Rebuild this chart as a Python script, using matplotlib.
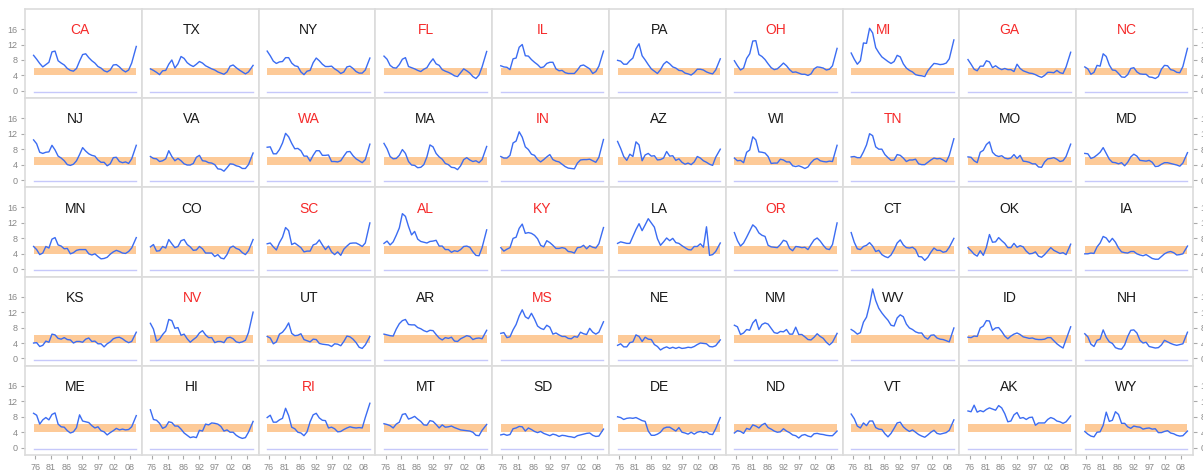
import matplotlib.pyplot as plt

plt.rcParams['font.family'] = ['Liberation Sans', 'DejaVu Sans']

# orden de los paneles (5 filas x 10 columnas)
STATES = ['CA', 'TX', 'NY', 'FL', 'IL', 'PA', 'OH', 'MI', 'GA', 'NC',
          'NJ', 'VA', 'WA', 'MA', 'IN', 'AZ', 'WI', 'TN', 'MO', 'MD',
          'MN', 'CO', 'SC', 'AL', 'KY', 'LA', 'OR', 'CT', 'OK', 'IA',
          'KS', 'NV', 'UT', 'AR', 'MS', 'NE', 'NM', 'WV', 'ID', 'NH',
          'ME', 'HI', 'RI', 'MT', 'SD', 'DE', 'ND', 'VT', 'AK', 'WY']
RED_STATES = ['CA', 'FL', 'IL', 'OH', 'MI', 'GA', 'NC', 'WA', 'IN', 'TN',
              'SC', 'AL', 'KY', 'OR', 'NV', 'MS', 'RI']

# 1976 ... 2008 y mediados de 2009
YEARS = list(range(1976, 2009)) + [2009.5]
TICK_POS = [1976.5, 1981.65, 1986.8, 1991.95, 1997.1, 2002.25, 2007.4]
TICK_LABELS = ['76', '81', '86', '92', '97', '02', '08']
Y_TICKS = [0, 4, 8, 12, 16]
BAND = (4, 6)

# tasa de desempleo (%)
CA = [9.2, 8.2, 7.1, 6.2, 6.8, 7.4, 10.1, 10.3, 7.8, 7.2, 6.7, 5.8, 5.3, 5.1, 5.8, 7.7, 9.4, 9.6, 8.6, 7.8, 7.2, 6.3, 5.9, 5.2, 4.9, 5.4, 6.7, 6.8, 6.2, 5.4, 4.9, 5.4, 7.2, 11.5]
TX = [5.7, 5.3, 4.8, 4.2, 5.2, 5.3, 6.9, 8.0, 5.9, 7.0, 8.9, 8.4, 7.3, 6.7, 6.3, 6.9, 7.6, 7.2, 6.5, 6.1, 5.7, 5.4, 4.9, 4.6, 4.3, 4.9, 6.4, 6.7, 6.0, 5.4, 4.9, 4.4, 4.9, 6.6]
NY = [10.3, 9.1, 7.7, 7.1, 7.5, 7.6, 8.6, 8.6, 7.2, 6.5, 6.3, 4.9, 4.2, 5.1, 5.3, 7.3, 8.5, 7.8, 6.9, 6.3, 6.3, 6.4, 5.7, 5.2, 4.5, 4.9, 6.2, 6.4, 5.8, 5.0, 4.6, 4.6, 5.4, 8.5]
FL = [9.0, 8.2, 6.6, 6.0, 5.9, 6.8, 8.2, 8.6, 6.3, 6.0, 5.7, 5.3, 5.0, 5.6, 6.0, 7.3, 8.3, 7.0, 6.6, 5.5, 5.1, 4.8, 4.4, 3.9, 3.7, 4.7, 5.7, 5.2, 4.6, 3.7, 3.2, 4.1, 6.2, 10.2]
IL = [6.5, 6.2, 6.1, 5.5, 8.3, 8.5, 11.3, 12.0, 9.1, 9.0, 8.1, 7.4, 6.8, 6.0, 6.2, 7.1, 7.4, 7.4, 5.7, 5.2, 5.3, 4.7, 4.5, 4.5, 4.5, 5.4, 6.5, 6.7, 6.2, 5.7, 4.5, 5.0, 6.4, 10.3]
PA = [7.9, 7.7, 6.9, 6.9, 7.8, 8.5, 10.9, 12.2, 9.1, 8.0, 6.8, 5.7, 5.1, 4.5, 5.5, 6.9, 7.6, 7.0, 6.2, 5.9, 5.3, 5.2, 4.6, 4.4, 4.1, 4.7, 5.6, 5.6, 5.4, 4.9, 4.6, 4.4, 5.4, 8.3]
OH = [7.8, 6.5, 5.4, 5.9, 8.4, 9.6, 12.9, 13.0, 9.4, 8.9, 8.1, 7.0, 6.0, 5.5, 5.7, 6.4, 7.2, 6.5, 5.5, 4.8, 4.9, 4.6, 4.3, 4.3, 4.0, 4.4, 5.7, 6.2, 6.1, 5.9, 5.4, 5.6, 6.5, 11.0]
MI = [9.8, 8.2, 6.9, 7.8, 12.4, 12.3, 16.2, 15.0, 11.2, 9.9, 8.8, 8.2, 7.6, 7.1, 7.6, 9.2, 8.8, 7.0, 5.9, 5.3, 4.9, 4.2, 4.0, 3.9, 3.7, 5.2, 6.2, 7.1, 7.0, 6.8, 6.9, 7.2, 8.3, 13.2]
GA = [8.1, 6.9, 5.6, 5.2, 6.4, 6.4, 7.8, 7.5, 6.0, 6.5, 5.9, 5.5, 5.8, 5.5, 5.5, 5.0, 6.9, 5.8, 5.2, 4.9, 4.6, 4.5, 4.2, 3.8, 3.5, 4.0, 4.8, 4.8, 4.7, 5.3, 4.7, 4.5, 6.2, 10.0]
NC = [6.2, 5.7, 4.3, 4.8, 6.6, 6.4, 9.6, 8.9, 6.7, 5.4, 5.3, 4.5, 3.6, 3.5, 4.2, 5.8, 6.0, 4.9, 4.4, 4.3, 4.3, 3.6, 3.5, 3.2, 3.7, 5.6, 6.6, 6.5, 5.5, 5.3, 4.8, 4.7, 6.3, 11.0]
NJ = [10.4, 9.4, 7.2, 6.9, 7.2, 7.3, 9.0, 7.8, 6.2, 5.7, 5.0, 4.0, 3.8, 4.1, 5.0, 6.6, 8.4, 7.5, 6.8, 6.4, 6.2, 5.2, 4.6, 4.6, 3.7, 4.2, 5.8, 5.9, 4.8, 4.5, 4.7, 4.3, 5.5, 9.0]
VA = [6.1, 5.6, 5.5, 4.8, 5.0, 5.5, 7.6, 6.1, 5.0, 5.6, 5.0, 4.2, 3.9, 3.9, 4.3, 5.9, 6.4, 5.0, 4.9, 4.5, 4.4, 4.0, 2.9, 2.8, 2.3, 3.2, 4.2, 4.1, 3.7, 3.5, 3.0, 3.0, 4.0, 7.0]
WA = [8.5, 8.6, 6.8, 6.8, 7.9, 9.6, 12.1, 11.2, 9.5, 8.1, 8.2, 7.6, 6.2, 6.2, 4.9, 6.4, 7.6, 7.6, 6.4, 6.4, 6.5, 4.8, 4.8, 4.7, 5.0, 6.2, 7.3, 7.4, 6.3, 5.5, 5.0, 4.5, 5.3, 9.3]
MA = [9.5, 8.1, 6.1, 5.5, 5.6, 6.4, 7.9, 6.9, 4.8, 3.9, 3.8, 3.2, 3.3, 4.0, 6.0, 9.1, 8.6, 6.9, 6.0, 5.4, 4.3, 4.0, 3.3, 3.2, 2.7, 3.7, 5.3, 5.8, 5.2, 4.8, 5.0, 4.5, 5.3, 8.7]
IN = [6.1, 5.7, 5.7, 6.4, 9.6, 10.1, 12.5, 11.1, 8.6, 7.9, 6.7, 6.4, 5.3, 4.7, 5.3, 6.0, 6.6, 5.3, 4.9, 4.7, 4.1, 3.5, 3.1, 3.0, 2.9, 4.4, 5.2, 5.3, 5.3, 5.4, 5.0, 4.6, 5.9, 10.5]
AZ = [10.0, 8.2, 6.1, 5.1, 6.7, 6.1, 9.9, 9.1, 5.0, 6.5, 6.9, 6.2, 6.3, 5.2, 5.3, 5.7, 7.4, 6.2, 6.3, 5.1, 5.5, 4.6, 4.1, 4.4, 4.0, 4.7, 6.1, 5.7, 5.0, 4.6, 4.1, 3.8, 5.9, 8.0]
WI = [5.7, 5.0, 5.1, 4.5, 7.2, 7.8, 11.2, 10.4, 7.3, 7.2, 7.0, 6.1, 4.3, 4.4, 4.4, 5.4, 5.2, 4.7, 4.7, 3.7, 3.5, 3.7, 3.4, 3.0, 3.4, 4.5, 5.3, 5.6, 5.0, 4.8, 4.7, 4.9, 4.8, 9.0]
TN = [6.0, 6.1, 5.8, 5.8, 7.3, 9.1, 12.0, 11.5, 8.6, 8.0, 8.0, 6.6, 5.8, 5.1, 5.2, 6.6, 6.4, 5.7, 4.8, 5.2, 5.2, 5.4, 4.2, 4.0, 4.0, 4.6, 5.2, 5.7, 5.5, 5.6, 5.2, 4.7, 6.4, 10.7]
MO = [6.0, 5.9, 5.0, 4.5, 7.2, 7.7, 9.2, 9.9, 7.2, 6.4, 6.1, 6.3, 5.7, 5.5, 5.7, 6.6, 5.6, 6.4, 4.9, 4.8, 4.6, 4.2, 4.2, 3.4, 3.3, 4.7, 5.5, 5.6, 5.8, 5.4, 4.8, 5.0, 6.1, 9.3]
MD = [6.9, 6.8, 5.6, 5.9, 6.5, 7.2, 8.4, 6.9, 5.4, 4.6, 4.5, 4.2, 4.5, 3.7, 4.6, 6.0, 6.7, 6.2, 5.1, 5.0, 4.9, 5.1, 4.6, 3.5, 3.6, 4.1, 4.5, 4.5, 4.3, 4.1, 3.9, 3.6, 4.4, 7.1]
MN = [5.9, 5.1, 3.8, 4.2, 5.9, 5.5, 7.8, 8.2, 6.3, 6.0, 5.3, 5.4, 4.0, 4.3, 4.9, 5.1, 5.1, 5.1, 4.0, 3.7, 4.0, 3.3, 2.7, 2.8, 3.1, 3.9, 4.5, 4.9, 4.6, 4.2, 4.1, 4.6, 5.5, 8.2]
CO = [5.8, 6.4, 4.7, 4.8, 5.9, 5.5, 7.7, 6.6, 5.6, 5.9, 7.4, 7.7, 6.4, 5.8, 4.9, 5.0, 5.9, 5.3, 4.2, 4.2, 4.2, 3.3, 3.8, 2.9, 2.7, 3.8, 5.6, 6.0, 5.4, 5.1, 4.3, 3.8, 4.8, 7.7]
SC = [6.6, 6.8, 5.8, 5.0, 6.9, 8.3, 10.8, 10.0, 6.4, 6.8, 6.2, 5.6, 4.5, 4.7, 4.7, 6.3, 6.6, 7.6, 6.3, 5.1, 6.0, 4.5, 3.8, 4.5, 3.6, 5.2, 6.0, 6.7, 6.8, 6.8, 6.4, 5.9, 6.8, 12.0]
AL = [6.7, 7.3, 6.3, 7.1, 8.8, 10.7, 14.4, 13.7, 11.1, 8.9, 9.8, 7.8, 7.2, 7.0, 6.8, 7.2, 7.3, 7.5, 6.0, 6.0, 5.1, 5.1, 4.4, 4.8, 4.6, 5.1, 5.9, 6.0, 5.7, 4.5, 3.6, 3.5, 5.6, 10.2]
KY = [5.6, 4.7, 5.2, 5.6, 8.0, 8.3, 10.6, 11.7, 9.3, 9.5, 9.3, 8.8, 7.9, 6.2, 5.8, 7.4, 6.9, 6.2, 5.4, 5.4, 5.6, 5.4, 4.6, 4.5, 4.2, 5.6, 5.7, 6.2, 5.3, 6.1, 5.7, 5.5, 6.6, 10.8]
LA = [6.7, 7.1, 6.9, 6.7, 6.7, 8.5, 10.3, 11.8, 10.0, 11.5, 13.1, 12.0, 10.9, 7.9, 6.2, 7.1, 8.1, 7.4, 8.0, 6.9, 6.7, 6.1, 5.6, 5.1, 5.0, 5.9, 5.9, 6.6, 5.7, 11.0, 3.6, 3.8, 4.6, 6.8]
OR = [9.5, 7.4, 6.0, 6.8, 8.3, 9.9, 11.5, 10.8, 9.4, 8.8, 8.5, 6.2, 5.8, 5.7, 5.6, 6.4, 7.5, 7.2, 5.4, 4.8, 5.9, 5.8, 5.6, 5.7, 5.1, 6.4, 7.6, 8.1, 7.3, 6.2, 5.3, 5.1, 6.4, 12.0]
CT = [9.5, 7.0, 5.3, 5.1, 5.9, 6.2, 6.9, 6.0, 4.6, 4.9, 3.8, 3.3, 3.0, 3.7, 5.1, 6.8, 7.6, 6.3, 5.6, 5.5, 5.7, 5.1, 3.3, 3.2, 2.3, 3.1, 4.4, 5.5, 4.9, 4.9, 4.4, 4.6, 5.7, 8.0]
OK = [5.6, 4.8, 3.9, 3.4, 4.8, 3.6, 5.7, 9.0, 7.0, 7.1, 8.2, 7.4, 6.7, 5.6, 5.6, 6.7, 5.7, 6.1, 5.8, 4.7, 4.0, 4.1, 4.5, 3.4, 3.1, 3.8, 4.7, 5.6, 4.9, 4.5, 4.1, 4.3, 3.8, 6.5]
IA = [4.0, 4.0, 4.2, 4.1, 5.8, 6.8, 8.5, 8.1, 7.0, 8.0, 7.0, 5.5, 4.5, 4.3, 4.2, 4.6, 4.6, 4.0, 3.7, 3.5, 3.8, 3.3, 2.8, 2.6, 2.6, 3.3, 4.0, 4.4, 4.6, 4.3, 3.7, 3.8, 4.0, 6.0]
KS = [4.0, 4.1, 3.1, 3.4, 4.5, 4.2, 6.3, 6.1, 5.2, 5.0, 5.4, 4.9, 4.8, 4.0, 4.4, 4.4, 4.2, 5.0, 5.3, 4.4, 4.5, 3.8, 3.8, 3.0, 3.8, 4.3, 5.1, 5.4, 5.5, 5.1, 4.5, 4.1, 4.4, 6.8]
NV = [9.1, 7.6, 4.5, 5.0, 6.2, 7.1, 10.1, 9.8, 7.8, 8.0, 6.0, 6.3, 5.1, 4.2, 4.9, 5.5, 6.6, 7.2, 6.1, 5.4, 5.4, 4.1, 4.4, 4.4, 4.1, 5.3, 5.5, 5.1, 4.3, 4.1, 4.3, 4.7, 6.7, 12.0]
UT = [5.7, 5.3, 3.8, 4.3, 6.3, 6.8, 7.8, 9.2, 6.5, 5.9, 6.0, 6.4, 4.9, 4.6, 4.3, 5.0, 4.9, 3.9, 3.7, 3.6, 3.5, 3.1, 3.8, 3.7, 3.3, 4.4, 5.8, 5.6, 5.0, 4.1, 2.9, 2.6, 3.5, 5.7]
AR = [6.3, 6.1, 5.9, 5.8, 7.6, 9.0, 9.8, 10.1, 8.8, 8.7, 8.7, 8.0, 7.7, 7.2, 6.9, 7.3, 7.2, 6.2, 5.3, 4.8, 5.4, 5.2, 5.5, 4.5, 4.4, 5.1, 5.5, 5.9, 5.7, 4.9, 5.2, 5.3, 5.1, 7.3]
MS = [6.5, 6.7, 5.4, 5.6, 7.4, 8.8, 11.0, 12.6, 10.8, 10.3, 11.7, 10.2, 8.4, 7.8, 7.5, 8.6, 8.1, 6.3, 6.6, 6.1, 5.7, 5.7, 5.2, 5.1, 5.7, 5.5, 6.8, 6.4, 6.2, 7.8, 6.8, 6.3, 6.8, 9.5]
NE = [3.4, 3.8, 3.0, 3.0, 4.1, 4.3, 6.1, 5.7, 4.4, 5.5, 5.0, 4.9, 3.6, 3.1, 2.2, 2.7, 3.0, 2.6, 2.9, 2.6, 2.9, 2.6, 2.7, 2.9, 2.8, 3.1, 3.6, 4.0, 3.9, 3.8, 3.1, 3.0, 3.3, 4.8]
NM = [8.6, 8.2, 6.2, 6.6, 7.5, 7.3, 9.2, 10.1, 7.5, 8.8, 9.2, 8.9, 7.8, 6.7, 6.5, 7.0, 6.9, 7.5, 6.3, 6.3, 8.1, 6.2, 6.2, 5.6, 4.9, 4.8, 5.5, 6.4, 5.7, 5.2, 4.2, 3.5, 4.2, 6.5]
WV = [7.5, 7.0, 6.3, 6.7, 9.4, 10.7, 13.9, 18.0, 15.0, 13.0, 11.8, 10.8, 9.9, 8.6, 8.4, 10.5, 11.3, 10.8, 8.9, 7.9, 7.5, 6.9, 6.6, 6.6, 5.5, 5.0, 6.0, 6.1, 5.3, 5.0, 4.9, 4.6, 4.3, 7.9]
ID = [5.5, 5.4, 5.8, 5.7, 7.9, 8.4, 9.8, 9.7, 7.3, 7.9, 8.0, 7.0, 5.8, 5.1, 5.8, 6.3, 6.6, 6.2, 5.6, 5.4, 5.2, 5.3, 5.0, 4.9, 4.9, 5.0, 5.4, 5.4, 4.6, 3.8, 3.2, 2.7, 4.9, 8.2]
NH = [6.4, 5.6, 3.7, 3.1, 4.7, 5.0, 7.4, 5.5, 4.3, 3.9, 2.8, 2.5, 2.4, 3.5, 5.7, 7.3, 7.4, 6.6, 4.7, 4.0, 4.2, 3.1, 2.9, 2.7, 2.8, 3.5, 4.7, 4.3, 3.9, 3.6, 3.4, 3.6, 3.8, 6.8]
ME = [8.9, 8.4, 6.1, 7.2, 7.8, 7.2, 8.6, 9.0, 6.1, 5.4, 5.3, 4.4, 3.8, 4.1, 5.2, 8.5, 6.9, 6.7, 6.5, 5.7, 5.1, 5.4, 4.4, 4.1, 3.3, 3.9, 4.4, 5.0, 4.6, 4.8, 4.6, 4.7, 5.4, 8.3]
HI = [9.8, 7.3, 7.1, 6.3, 5.0, 5.4, 6.7, 6.5, 5.6, 5.6, 4.8, 3.8, 3.2, 2.6, 2.8, 2.6, 4.5, 4.3, 6.1, 5.9, 6.4, 6.3, 6.1, 5.5, 4.3, 4.6, 4.0, 4.0, 3.2, 2.7, 2.4, 2.6, 4.0, 6.8]
RI = [7.8, 8.4, 6.6, 6.6, 7.2, 7.6, 10.2, 8.3, 5.3, 4.9, 4.0, 3.8, 3.1, 4.1, 6.7, 8.5, 8.9, 7.7, 7.1, 7.0, 5.1, 5.3, 4.9, 4.1, 4.2, 4.7, 5.1, 5.4, 5.2, 5.1, 5.2, 5.1, 7.8, 11.5]
MT = [6.2, 6.0, 5.7, 5.1, 6.1, 6.6, 8.6, 8.8, 7.4, 7.7, 8.1, 7.4, 6.8, 5.9, 5.8, 7.0, 6.8, 6.0, 5.1, 5.9, 5.3, 5.4, 5.6, 5.2, 4.9, 4.6, 4.5, 4.4, 4.3, 4.0, 3.2, 3.1, 4.5, 6.0]
SD = [3.3, 3.5, 3.2, 3.4, 4.9, 5.1, 5.5, 5.4, 4.3, 5.1, 4.7, 4.2, 3.9, 4.2, 3.7, 3.4, 3.1, 3.5, 3.3, 2.9, 3.2, 3.1, 2.9, 2.8, 2.6, 3.1, 3.3, 3.5, 3.7, 3.8, 3.2, 2.9, 3.0, 4.8]
DE = [8.0, 7.8, 7.3, 7.6, 7.7, 7.6, 7.8, 7.4, 7.0, 6.8, 4.3, 3.2, 3.2, 3.5, 4.0, 5.0, 5.3, 5.3, 4.8, 4.3, 5.2, 4.0, 3.8, 3.5, 4.0, 3.5, 4.0, 4.2, 3.9, 4.1, 3.5, 3.4, 4.9, 7.8]
ND = [3.8, 4.4, 4.2, 3.7, 5.0, 4.7, 5.9, 5.6, 5.1, 5.9, 6.3, 5.2, 4.8, 4.3, 4.0, 4.1, 4.9, 4.3, 3.9, 3.3, 3.1, 2.5, 3.2, 3.4, 3.0, 2.8, 3.6, 3.7, 3.5, 3.4, 3.2, 3.1, 3.1, 4.3]
VT = [8.7, 7.5, 5.6, 5.1, 6.4, 5.7, 6.9, 6.9, 5.2, 4.8, 4.7, 3.6, 2.8, 3.7, 5.0, 6.4, 6.6, 5.4, 4.7, 4.2, 4.6, 4.0, 3.4, 3.0, 2.7, 3.3, 4.0, 4.5, 3.7, 3.5, 3.7, 3.9, 4.5, 7.2]
AK = [9.5, 9.3, 11.0, 9.2, 9.6, 9.3, 9.9, 10.3, 10.0, 9.7, 10.9, 10.3, 8.8, 6.7, 6.9, 8.5, 9.1, 7.6, 7.8, 7.3, 7.8, 7.9, 5.8, 6.4, 6.4, 6.4, 7.3, 7.8, 7.5, 6.9, 6.7, 6.3, 6.7, 8.2]
WY = [4.2, 3.5, 3.0, 2.8, 4.0, 4.1, 5.8, 9.2, 6.8, 7.1, 9.3, 8.6, 6.3, 6.3, 5.4, 5.0, 5.6, 5.4, 5.3, 4.8, 5.0, 5.1, 4.8, 4.9, 3.9, 3.9, 4.2, 4.4, 3.8, 3.6, 3.2, 3.0, 3.1, 4.3]

series = {st: globals()[st] for st in STATES}

# posicion x de la etiqueta (por defecto centrada un poco a la izquierda)
LABEL_X = {'CA': 1991.0, 'MI': 1986.5}

AZUL = '#3b6cf2'
NARANJA = '#fdca98'
BORDE = '#dcdcdc'

fig, axs = plt.subplots(5, 10, figsize=(12.03, 4.70), dpi=100, sharex=True, sharey=True)
plt.subplots_adjust(left=25/1203, right=1193/1203, top=1 - 9/470, bottom=1 - 455/470,
                    wspace=0, hspace=0)

for k, st in enumerate(STATES):
    fila, col = divmod(k, 10)
    ax = axs[fila, col]
    ax.fill_between([YEARS[0], YEARS[-1]], BAND[0], BAND[1], color=NARANJA, lw=0, zorder=1)
    ax.plot([YEARS[0], YEARS[-1]], [-0.3, -0.3], color='#c6c8fa', lw=1.0, zorder=1)
    ax.plot(YEARS, series[st], color=AZUL, lw=1.0, zorder=2)

    color_txt = '#f52a2a' if st in RED_STATES else '#1a1a1a'
    ax.text(LABEL_X.get(st, 1989.6), 15.7, st, ha='center', va='center',
            fontsize=10, color=color_txt, zorder=3)

    ax.set_xlim(1973.2, 2011.3)
    ax.set_ylim(-1.9, 21.2)
    for sp in ax.spines.values():
        sp.set_color(BORDE)
        sp.set_linewidth(1.2)

    ax.tick_params(left=False, labelleft=False, bottom=False, labelbottom=False,
                   right=False, labelright=False, length=3, width=0.8,
                   color='#aaaaaa', labelcolor='#888888', labelsize=6.5, pad=2.5)
    if col == 0:
        ax.tick_params(left=True, labelleft=True)
    if col == 9:
        ax.tick_params(right=True, labelright=True)
    if fila == 4:
        ax.tick_params(bottom=True, labelbottom=True)

axs[0, 0].set_yticks(Y_TICKS)
axs[0, 0].set_xticks(TICK_POS)
axs[0, 0].set_xticklabels(TICK_LABELS)

plt.savefig('out.png', dpi=100)
